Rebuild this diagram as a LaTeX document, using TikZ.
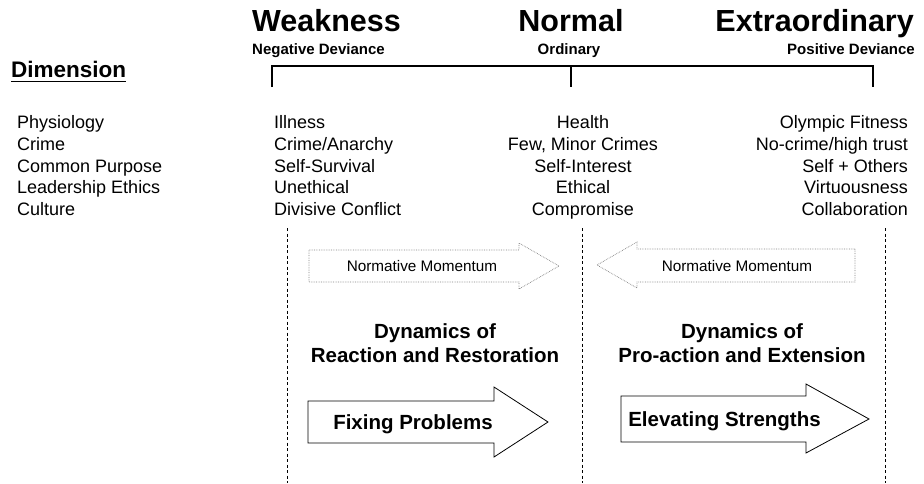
\documentclass[tikz,border=0pt]{standalone}
\usepackage{fontspec}
\setmainfont{Liberation Sans}
\usetikzlibrary{positioning}

\begin{document}
\begin{tikzpicture}[
  x=1pt, y=-1pt,
  every node/.style={inner sep=0pt},
  head/.style={font=\fontsize{30.5}{34}\selectfont\bfseries},
  sub/.style={font=\fontsize{15}{18}\selectfont\bfseries},
  dimhd/.style={font=\fontsize{22.5}{26}\selectfont\bfseries},
  row/.style={font=\fontsize{18}{21}\selectfont},
  mom/.style={font=\fontsize{15.3}{18}\selectfont},
  dyn/.style={font=\fontsize{20.5}{24}\selectfont\bfseries},
  bracket/.style={line width=2.6pt, line join=miter},
  divider/.style={line width=0.8pt, dash pattern=on 3pt off 2.5pt},
  momarrow/.style={draw=gray, densely dotted, line width=0.7pt},
  blockarrow/.style={draw=black, line width=0.8pt, line join=miter, fill=white},
]
\useasboundingbox (0,0) rectangle (924,483);

% scale headings
\node[head, anchor=base west] (weak)  at (252,31) {Weakness};
\node[head, anchor=base]      (norm)  at (571,31) {Normal};
\node[head, anchor=base east] (extra) at (914,31) {Extraordinary};
\node[sub, anchor=base west] (neg) at (252,54) {Negative Deviance};
\node[sub, anchor=base]      (ord) at (569,54) {Ordinary};
\node[sub, anchor=base east] (pos) at (915,54) {Positive Deviance};

\draw[bracket] (272,87) -- (272,66) -- (873,66) -- (873,87);
\draw[bracket] (571,66) -- (571,87);

% dimensions and their three states
\node[dimhd, anchor=base west] (dimhd) at (11,77) {Dimension};
\draw[line width=1.8pt] ([yshift=-4.5pt]dimhd.base west) -- ([yshift=-4.5pt]dimhd.base east);

\foreach \yy/\dm/\cola/\colb/\colc [count=\i] in {
    128/Physiology/Illness/Health/Olympic Fitness,
    150/Crime/{Crime/Anarchy}/{Few, Minor Crimes}/{No-crime/high trust},
    172/Common Purpose/Self-Survival/Self-Interest/Self + Others,
    193/Leadership Ethics/Unethical/Ethical/Virtuousness,
    215/Culture/Divisive Conflict/Compromise/Collaboration} {
  \node[row, anchor=base west] (dim\i)  at (17,\yy)  {\dm};
  \node[row, anchor=base west] (low\i)  at (274,\yy) {\cola};
  \node[row, anchor=base]      (mid\i)  at (583,\yy) {\colb};
  \node[row, anchor=base east] (high\i) at (908,\yy) {\colc};
}

% dividers
\draw[divider] (287,228) -- (287,483);
\draw[divider] (582,228) -- (582,483);
\draw[divider] (885,228) -- (885,483);

% normative momentum
\draw[momarrow] (309,250) -- (519,250) -- (519,243) -- (559,266)
                -- (519,289) -- (519,282) -- (309,282) -- cycle;
\node[mom, anchor=base] (momL) at (422,271) {Normative Momentum};
\draw[momarrow] (855,249) -- (637,249) -- (637,242) -- (597,265)
                -- (637,288) -- (637,282) -- (855,282) -- cycle;
\node[mom, anchor=base] (momR) at (737,271) {Normative Momentum};

% dynamics
\node[dyn, anchor=base] (dynL1) at (435,338) {Dynamics of};
\node[dyn, anchor=base] (dynL2) at (435,362) {Reaction and Restoration};
\node[dyn, anchor=base] (dynR1) at (742,338) {Dynamics of};
\node[dyn, anchor=base] (dynR2) at (742,362) {Pro-action and Extension};

\draw[blockarrow] (308,401) -- (494,401) -- (494,387) -- (548,422)
                  -- (494,457) -- (494,443) -- (308,443) -- cycle;
\node[dyn, anchor=base] (fix) at (413,429.5) {Fixing Problems};
\draw[blockarrow] (621,396) -- (806,396) -- (806,384) -- (869,419)
                  -- (806,453) -- (806,442) -- (621,442) -- cycle;
\node[dyn, anchor=base] (elev) at (724.5,426) {Elevating Strengths};
\end{tikzpicture}
\end{document}
